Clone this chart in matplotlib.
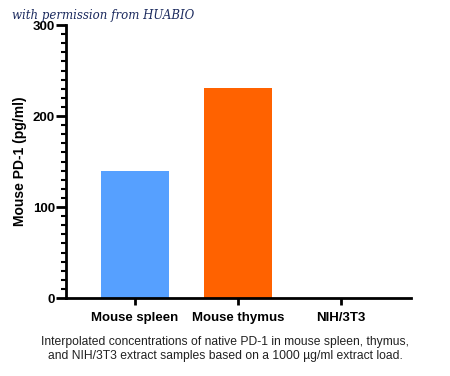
import matplotlib.pyplot as plt
from matplotlib.ticker import MultipleLocator

plt.rcParams["font.family"] = ["Liberation Sans", "DejaVu Sans"]

categories = ["Mouse spleen", "Mouse thymus", "NIH/3T3"]
values = [140, 231, 0]
colors = ["#56a0ff", "#ff6200", "#888888"]

fig = plt.figure(figsize=(4.5, 3.76), dpi=100)
ax = fig.add_axes([0.1467, 0.2074, 0.7663, 0.7261])

x = range(len(categories))
ax.bar(x, values, width=0.66, color=colors)

ax.set_xlim(-0.67, 2.68)
ax.set_ylim(0, 300)
ax.yaxis.set_major_locator(MultipleLocator(100))
ax.yaxis.set_minor_locator(MultipleLocator(10))
ax.set_xticks(list(x))
ax.set_xticklabels(categories, fontsize=9.5, fontweight="bold")
for lab in ax.get_yticklabels():
    lab.set_fontweight("bold")
ax.tick_params(axis="y", which="major", labelsize=9.5, width=2, length=7, pad=1)
ax.tick_params(axis="y", which="minor", width=1.5, length=3.5)
ax.tick_params(axis="x", width=2, length=5, pad=5)

for side in ["top", "right"]:
    ax.spines[side].set_visible(False)
for side in ["left", "bottom"]:
    ax.spines[side].set_linewidth(2)

ax.set_ylabel("Mouse PD-1 (pg/ml)", fontsize=10, fontweight="bold", labelpad=4)

fig.text(0.027, 0.975, "with permission from HUABIO", fontsize=8.5,
         family="DejaVu Serif", style="italic", color="#1b2a5e", va="top")

fig.text(0.5, 0.072,
         "Interpolated concentrations of native PD-1 in mouse spleen, thymus,\n"
         "and NIH/3T3 extract samples based on a 1000 \u00b5g/ml extract load.",
         fontsize=8.7, ha="center", va="center", color="#222222", linespacing=1.2)

fig.savefig("out.png", dpi=100)
